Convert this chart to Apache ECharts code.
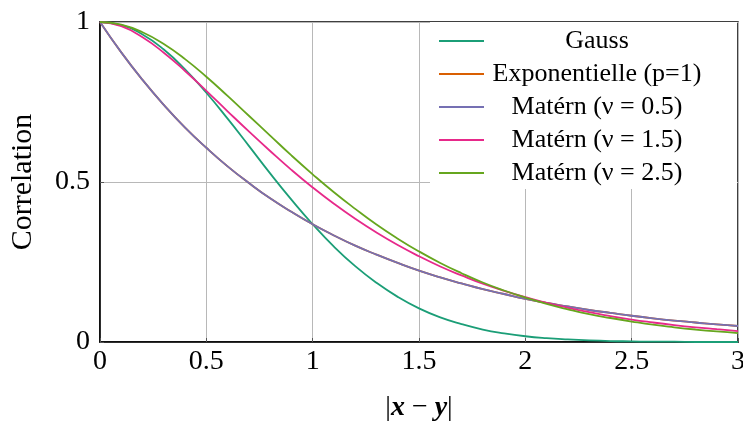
<!DOCTYPE html>
<html>
<head>
<meta charset="utf-8">
<script src="https://cdn.jsdelivr.net/npm/echarts@6/dist/echarts.min.js"></script>
<style>
  html, body { margin: 0; padding: 0; background: #fff; }
  #chart { width: 743px; height: 426px; }
</style>
</head>
<body>
<div id="chart"></div>
<script>
// distance |x-y|, step 0.1 from 0 to 3
const xs = [0, 0.1, 0.2, 0.3, 0.4, 0.5, 0.6, 0.7, 0.8, 0.9, 1.0,
  1.1, 1.2, 1.3, 1.4, 1.5, 1.6, 1.7, 1.8, 1.9, 2.0,
  2.1, 2.2, 2.3, 2.4, 2.5, 2.6, 2.7, 2.8, 2.9, 3.0]

const gauss = [1, 0.990, 0.961, 0.914, 0.852, 0.779, 0.698, 0.613, 0.527, 0.445, 0.368,
  0.298, 0.237, 0.185, 0.141, 0.105, 0.077, 0.056, 0.039, 0.027, 0.018,
  0.012, 0.008, 0.005, 0.003, 0.002, 0.001, 0.001, 0.000, 0.000, 0.000]

const expo = [1, 0.905, 0.819, 0.741, 0.670, 0.607, 0.549, 0.497, 0.449, 0.407, 0.368,
  0.333, 0.301, 0.273, 0.247, 0.223, 0.202, 0.183, 0.165, 0.150, 0.135,
  0.122, 0.111, 0.100, 0.091, 0.082, 0.074, 0.067, 0.061, 0.055, 0.050]

const matern05 = [1, 0.905, 0.819, 0.741, 0.670, 0.607, 0.549, 0.497, 0.449, 0.407, 0.368,
  0.333, 0.301, 0.273, 0.247, 0.223, 0.202, 0.183, 0.165, 0.150, 0.135,
  0.122, 0.111, 0.100, 0.091, 0.082, 0.074, 0.067, 0.061, 0.055, 0.050]

const matern15 = [1, 0.987, 0.952, 0.904, 0.847, 0.785, 0.721, 0.658, 0.597, 0.538, 0.483,
  0.432, 0.385, 0.342, 0.303, 0.268, 0.236, 0.208, 0.182, 0.160, 0.140,
  0.122, 0.107, 0.093, 0.081, 0.070, 0.061, 0.053, 0.046, 0.040, 0.034]

const matern25 = [1, 0.992, 0.968, 0.931, 0.884, 0.829, 0.769, 0.707, 0.645, 0.583, 0.524,
  0.468, 0.416, 0.367, 0.323, 0.283, 0.247, 0.215, 0.186, 0.161, 0.139,
  0.119, 0.102, 0.087, 0.075, 0.064, 0.054, 0.046, 0.039, 0.033, 0.028]

const seriesNames = ['Gauss', 'Exponentielle (p=1)', 'Matérn (ν = 0.5)', 'Matérn (ν = 1.5)', 'Matérn (ν = 2.5)']
const seriesValues = [gauss, expo, matern05, matern15, matern25]
const colors = ['#1b9e77', '#d95f02', '#7570b3', '#e7298a', '#66a61e']

const font = 'Liberation Serif'

const chart = echarts.init(document.getElementById('chart'))

const series = seriesNames.map((name, i) => {
  return {
    name: name,
    type: 'line',
    smooth: true,
    showSymbol: false,
    lineStyle: { width: 1.8, color: colors[i] },
    itemStyle: { color: colors[i] },
    data: xs.map((x, j) => [x, seriesValues[i][j]])
  }
})

chart.setOption({
  animation: false,
  grid: {
    left: 100,
    right: 5,
    top: 22,
    bottom: 84,
    containLabel: false,
    outerBoundsMode: 'none',
    show: true,
    borderColor: '#000',
    borderWidth: 1.5
  },
  legend: {
    orient: 'vertical',
    right: 6,
    top: 22,
    padding: [6, 32, 3, 9],
    backgroundColor: '#fff',
    itemWidth: 45,
    itemHeight: 14,
    itemGap: 7,
    icon: 'path://M0,6 L45,6 L45,8 L0,8 Z',
    data: seriesNames,
    formatter: name => '{c|' + name + '}',
    textStyle: {
      fontFamily: font,
      fontSize: 26,
      color: '#000',
      rich: {
        c: { width: 216, align: 'center', fontFamily: font, fontSize: 26, lineHeight: 28, color: '#000' }
      }
    }
  },
  xAxis: {
    type: 'value',
    min: 0,
    max: 3,
    interval: 0.5,
    name: '{p||}{v|x}{p| − }{v|y}{p||}',
    nameLocation: 'middle',
    nameGap: 52,
    nameTextStyle: {
      rich: {
        p: { fontFamily: font, fontSize: 28, color: '#000' },
        v: { fontFamily: font, fontSize: 28, fontStyle: 'italic', fontWeight: 'bold', color: '#000' }
      }
    },
    axisLine: { show: true, lineStyle: { color: '#000', width: 1.5 } },
    axisTick: { show: true, inside: true, length: 4, lineStyle: { color: '#555' } },
    axisLabel: { fontFamily: font, fontSize: 28, color: '#000', margin: 6 },
    splitLine: { show: true, lineStyle: { color: '#b8b8b8', width: 1 } }
  },
  yAxis: {
    type: 'value',
    min: 0,
    max: 1,
    interval: 0.5,
    name: 'Correlation',
    nameLocation: 'middle',
    nameGap: 62,
    nameTextStyle: { fontFamily: font, fontSize: 30, color: '#000' },
    axisLine: { show: true, lineStyle: { color: '#000', width: 1.5 } },
    axisTick: { show: true, inside: true, length: 4, lineStyle: { color: '#555' } },
    axisLabel: { fontFamily: font, fontSize: 28, color: '#000', margin: 10 },
    splitLine: { show: true, lineStyle: { color: '#b8b8b8', width: 1 } }
  },
  series: series
})
</script>
</body>
</html>
